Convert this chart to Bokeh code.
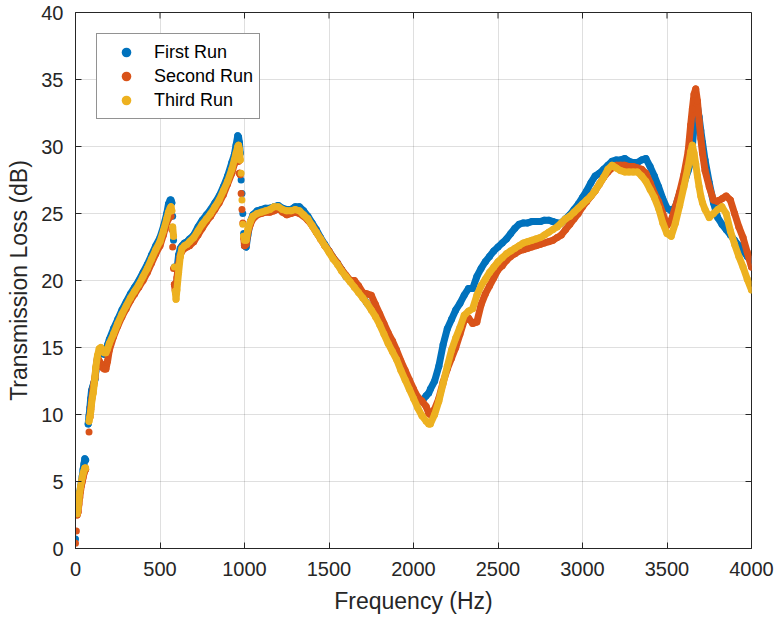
import numpy as np
from bokeh.plotting import figure
from bokeh.models import Range1d, Legend, LegendItem
from bokeh.embed import file_html
from bokeh.resources import INLINE

# ---------------- data ----------------
freq = [
    0, 5, 10, 15, 20, 25, 30, 35, 40, 45, 50, 55, 60, 75, 80, 85, 90, 95, 100, 105,
    110, 115, 120, 130, 140, 150, 160, 170, 180, 190, 200,
    225, 250, 275, 300, 325, 350, 375, 400, 425, 450, 475, 500, 520, 540, 550, 560, 565,
    570, 575, 580, 585, 590, 595, 600, 610, 620, 630, 645, 660, 675, 700, 725, 750, 775,
    800, 825, 850, 875, 900, 925, 940, 950, 960, 965, 970, 975, 980, 985, 990, 995, 1000,
    1010, 1020, 1035, 1050,
    1075, 1100, 1125, 1150, 1175, 1200, 1225, 1250, 1275, 1300, 1325, 1350, 1375, 1400,
    1425, 1450, 1475, 1500, 1525, 1550, 1575, 1600, 1625, 1650, 1675, 1700, 1725, 1750,
    1775, 1800, 1825, 1850, 1875, 1900, 1925, 1950, 1975, 2000, 2025, 2050, 2075,
    2090, 2100,
    2125, 2150, 2175, 2200, 2225, 2250, 2275, 2300, 2325, 2350, 2375, 2400, 2425, 2450,
    2475, 2500, 2525, 2550, 2575, 2600, 2625, 2650, 2675, 2700, 2725, 2750, 2775, 2800,
    2825, 2850, 2875, 2900, 2925, 2950, 2975, 3000, 3025, 3050, 3075, 3100, 3125, 3150,
    3175, 3200, 3225, 3250, 3275, 3300, 3325, 3350, 3375, 3400, 3425, 3450, 3475, 3500,
    3525, 3550, 3575, 3600, 3625,
    3640, 3650, 3660, 3670, 3680, 3690, 3700, 3710,
    3725, 3750, 3775, 3800, 3825, 3850, 3875, 3900, 3925, 3950, 3975, 4000,
]

first_run = [
    0.7, None, 2.8, 3.3, 3.8, 4.2, 4.6, 5.0, 5.4, 5.9, 6.3, 6.7, 6.6, 9.3, 9.9, 10.5, 11.2, 11.8, 12.0, 12.2,
    12.4, 12.6, 13.2, 14.2, 14.6, 14.7, 14.6, 14.5, 14.7, 15.2, 15.6,
    16.4, 17.1, 17.8, 18.4, 19.0, 19.5, 20.0, 20.6, 21.2, 21.9, 22.6, 23.2, 24.0, 25.0, 25.7, 26.0, 26.0,
    25.8, 24.8, 23.0, 21.0, 19.6, 19.8, 20.8, 21.9, 22.4, 22.6, 22.8, 22.9, 23.1, 23.4, 24.0, 24.5, 24.9,
    25.3, 25.8, 26.3, 27.0, 27.8, 28.8, 29.4, 30.1, 30.8, 30.7, 30.3, 29.5, 27.5, 26.5, 25.0, 23.5, 22.6,
    22.5, 23.4, 24.4, 24.9,
    25.2, 25.3, 25.4, 25.4, 25.5, 25.6, 25.4, 25.3, 25.3, 25.5, 25.5, 25.2, 24.8, 24.3,
    23.8, 23.2, 22.7, 22.2, 21.7, 21.3, 20.8, 20.3, 20.0, 19.6, 19.2, 18.8, 18.3, 17.9,
    17.5, 16.9, 16.2, 15.5, 14.9, 14.2, 13.5, 12.8, 12.1, 11.4, 11.0, 11.0, 11.4,
    11.6, 11.9,
    12.5, 13.6, 15.2, 16.4, 17.1, 17.8, 18.3, 18.9, 19.4, 19.4, 20.3, 20.9, 21.4, 21.8,
    22.2, 22.5, 22.8, 23.1, 23.5, 23.9, 24.2, 24.3, 24.3, 24.4, 24.4, 24.4, 24.5, 24.5,
    24.4, 24.3, 24.3, 24.6, 24.9, 25.3, 25.7, 26.2, 26.7, 27.3, 27.8, 28.0, 28.3, 28.6,
    28.9, 29.0, 29.0, 29.1, 28.9, 28.8, 28.8, 29.0, 29.1, 28.5, 27.8, 27.0, 26.1, 25.4,
    25.2, 25.5, 26.5, 27.2, 28.2,
    28.8, 30.0, 31.5, 32.6, 33.0, 32.2, 31.2, 30.3,
    29.0, 27.3, 25.8, 24.7, 24.2, 23.8, 23.4, 23.0, 22.6, 22.2, 21.8, 21.4,
]

second_run = [
    0.4, 1.3, 2.5, 2.7, 3.3, 3.8, 4.3, 4.7, 5.0, 5.3, 5.6, 5.8, 5.9, None, 8.7, 9.8, 10.4, 11.0, 11.5, 12.0,
    12.4, 12.7, 13.4, 14.3, 14.0, 13.8, 13.5, 13.4, 13.4, 14.0, 14.8,
    15.8, 16.6, 17.3, 17.9, 18.5, 19.0, 19.5, 20.0, 20.6, 21.3, 22.0, 22.6, 23.4, 24.3, 24.6, 24.8, 24.8,
    23.8, 22.5, 20.9, 19.7, 19.3, 19.5, 20.2, 21.2, 21.9, 22.2, 22.4, 22.5, 22.6, 22.9, 23.4, 23.9, 24.4,
    24.8, 25.3, 25.8, 26.4, 27.2, 28.0, 28.7, 29.0, 29.0, 28.9, 28.0, 27.9, 26.5, 25.3, 24.3, 23.2, 22.6,
    22.7, 23.6, 24.2, 24.6,
    24.9, 25.0, 25.1, 25.1, 25.2, 25.4, 25.1, 24.9, 25.0, 25.1, 25.0, 24.8, 24.5, 24.1,
    23.6, 23.1, 22.6, 22.2, 21.7, 21.3, 20.8, 20.4, 20.0, 20.0, 19.6, 19.1, 19.0, 18.9,
    18.2, 17.5, 16.8, 16.1, 15.5, 14.8, 14.0, 13.3, 12.6, 11.9, 11.3, 11.0, 10.6,
    10.1, 10.0,
    10.4, 11.2, 12.4, 13.4, 14.2, 15.0, 16.0, 17.0, 17.2, 16.8, 16.9, 18.2, 19.0, 19.6,
    20.2, 20.8, 21.1, 21.5, 21.8, 22.0, 22.2, 22.3, 22.4, 22.5, 22.6, 22.7, 22.8, 22.9,
    23.0, 23.2, 23.4, 23.8, 24.2, 24.6, 25.0, 25.5, 25.9, 26.3, 26.7, 27.2, 27.7, 28.1,
    28.4, 28.6, 28.6, 28.6, 28.5, 28.5, 28.4, 28.3, 28.0, 27.3, 26.5, 25.9, 25.0, 24.1,
    24.5, 25.5, 26.6, 27.9, 29.6,
    31.6, 32.8, 33.9, 34.3, 33.4, 31.9, 30.6, 29.5,
    28.2, 27.0, 26.0, 25.9, 26.1, 26.3, 26.0, 25.0, 24.0, 23.2, 22.1, 21.0,
]

third_run = [
    None, None, 2.6, 3.0, 3.6, 4.2, 4.6, 5.0, 5.3, 5.6, 5.8, 6.0, 6.0, None, 9.5, 9.8, 10.2, 10.8, 11.3, 11.6,
    12.2, 12.8, 13.5, 14.4, 14.9, 15.0, 14.8, 14.6, 14.6, 14.9, 15.3,
    16.0, 16.8, 17.5, 18.1, 18.7, 19.2, 19.7, 20.3, 20.9, 21.6, 22.3, 22.9, 23.7, 24.6, 25.1, 25.4, 25.5,
    25.2, 24.0, 23.3, 21.0, 19.2, 18.6, 19.3, 20.6, 21.8, 22.4, 22.6, 22.7, 22.9, 23.2, 23.7, 24.2, 24.6,
    25.0, 25.5, 26.0, 26.7, 27.4, 28.3, 29.0, 29.5, 30.0, 30.1, 29.8, 29.0, 28.0, 26.0, 24.2, 23.3, 23.0,
    23.0, 23.8, 24.4, 24.8,
    25.0, 25.1, 25.2, 25.3, 25.5, 25.5, 25.3, 25.2, 25.2, 25.3, 25.2, 24.9, 24.6, 24.1,
    23.6, 23.1, 22.6, 22.1, 21.6, 21.2, 20.7, 20.3, 19.9, 19.5, 19.1, 18.7, 18.3, 17.8,
    17.3, 16.7, 16.0, 15.3, 14.7, 14.1, 13.3, 12.6, 11.9, 11.2, 10.5, 9.9, 9.5,
    9.3, 9.3,
    10.0, 11.0, 12.3, 13.6, 14.8, 15.7, 16.5, 17.4, 17.7, 17.9, 18.9, 19.6, 20.1, 20.6,
    21.0, 21.4, 21.7, 22.0, 22.2, 22.4, 22.6, 22.8, 22.9, 23.0, 23.1, 23.2, 23.4, 23.6,
    23.8, 24.0, 24.3, 24.6, 24.8, 25.1, 25.4, 25.7, 26.0, 26.3, 26.7, 27.2, 27.7, 28.3,
    28.6, 28.4, 28.2, 28.1, 28.1, 28.1, 28.1, 27.8, 27.4, 26.8, 26.2, 25.4, 24.3, 23.5,
    23.3, 24.3, 25.6, 27.0, 28.5,
    29.6, 30.1, 29.5, 28.7, 27.8, 27.0, 26.3, 25.8,
    25.3, 24.7, 25.0, 25.3, 25.5, 25.0, 23.7, 22.7, 21.8, 21.0, 20.1, 19.3,
]

series_names = ["First Run", "Second Run", "Third Run"]
series_colors = ["#0072BD", "#D95319", "#EDB120"]
x_ticks = [0, 500, 1000, 1500, 2000, 2500, 3000, 3500, 4000]
y_ticks = [0, 5, 10, 15, 20, 25, 30, 35, 40]
x_label = "Frequency (Hz)"
y_label = "Transmission Loss (dB)"

# ---------------- styling ----------------
FONT = "Liberation Sans"
AX = "#262626"
W, H = 778, 622
BL, BR, BT, BB = 75, 27, 12, 74
TICK = 6

x0, x1 = 0, 4000
y0, y1 = 0, 40

p = figure(width=W, height=H, output_backend="svg", toolbar_location=None,
           x_range=Range1d(x0, x1), y_range=Range1d(y0, y1),
           min_border_left=BL, min_border_right=BR, min_border_top=BT, min_border_bottom=BB,
           background_fill_color="white", border_fill_color="white")

p.outline_line_color = AX
p.outline_line_width = 1

for ax in (p.xaxis[0], p.yaxis[0]):
    ax.axis_line_color = AX
    ax.major_tick_line_color = AX
    ax.major_tick_in = TICK
    ax.major_tick_out = 0
    ax.minor_tick_line_color = None
    ax.major_label_text_font = FONT
    ax.major_label_text_font_size = "20px"
    ax.major_label_text_color = AX
    ax.axis_label_text_font = FONT
    ax.axis_label_text_font_size = "23px"
    ax.axis_label_text_font_style = "normal"
    ax.axis_label_text_color = AX

p.xaxis.ticker = x_ticks
p.yaxis.ticker = y_ticks
p.xaxis.axis_label = x_label
p.yaxis.axis_label = y_label
p.xaxis.major_label_standoff = 13
p.yaxis.major_label_standoff = 12
p.xaxis.axis_label_standoff = 9
p.yaxis.axis_label_standoff = 6

p.grid.grid_line_color = AX
p.grid.grid_line_alpha = 0.15
p.grid.grid_line_width = 1
p.xgrid.ticker = x_ticks
p.ygrid.ticker = y_ticks

# mirrored inward ticks on the top and right edges (box-style axes)
frame_w = W - BL - BR
frame_h = H - BT - BB
dx = TICK * (x1 - x0) / frame_w
dy = TICK * (y1 - y0) / frame_h
p.segment(x0=x_ticks, y0=[y1] * len(x_ticks), x1=x_ticks, y1=[y1 - dy] * len(x_ticks),
          line_color=AX, line_width=1)
p.segment(x0=[x1] * len(y_ticks), y0=y_ticks, x1=[x1 - dx] * len(y_ticks), y1=y_ticks,
          line_color=AX, line_width=1)


def split_steep(xs, ys, thr=0.17):
    """Insert breaks where consecutive samples jump steeply (drawn there as separate dots)."""
    xo, yo, prev = [], [], None
    for x, y in zip(xs, ys):
        if y is None:
            xo.append(np.nan); yo.append(np.nan); prev = None
            continue
        if prev is not None and abs(y - prev[1]) / (x - prev[0]) > thr:
            xo.append(np.nan); yo.append(np.nan)
        xo.append(x); yo.append(y); prev = (x, y)
    return xo, yo


items = []
x_arr = np.array(freq, dtype=float)
for name, vals, col in zip(series_names, [first_run, second_run, third_run], series_colors):
    lx, ly = split_steep(freq, vals)
    p.line(lx, ly, line_color=col, line_width=7, line_cap="round", line_join="round")
    y_arr = np.array([np.nan if v is None else v for v in vals], dtype=float)
    r = p.scatter(x_arr, y_arr, size=7, fill_color=col, line_color=None, marker="circle")
    items.append(LegendItem(label=name, renderers=[r]))

legend = Legend(items=items, location="top_left", margin=21, padding=6, spacing=0,
                glyph_width=46, glyph_height=24, label_height=24, label_standoff=5,
                label_text_font=FONT, label_text_font_size="18px", label_text_color="#000000",
                border_line_color=AX, border_line_width=1, background_fill_alpha=1.0)
p.add_layout(legend)

open("out.html", "w").write(file_html(p, INLINE))
